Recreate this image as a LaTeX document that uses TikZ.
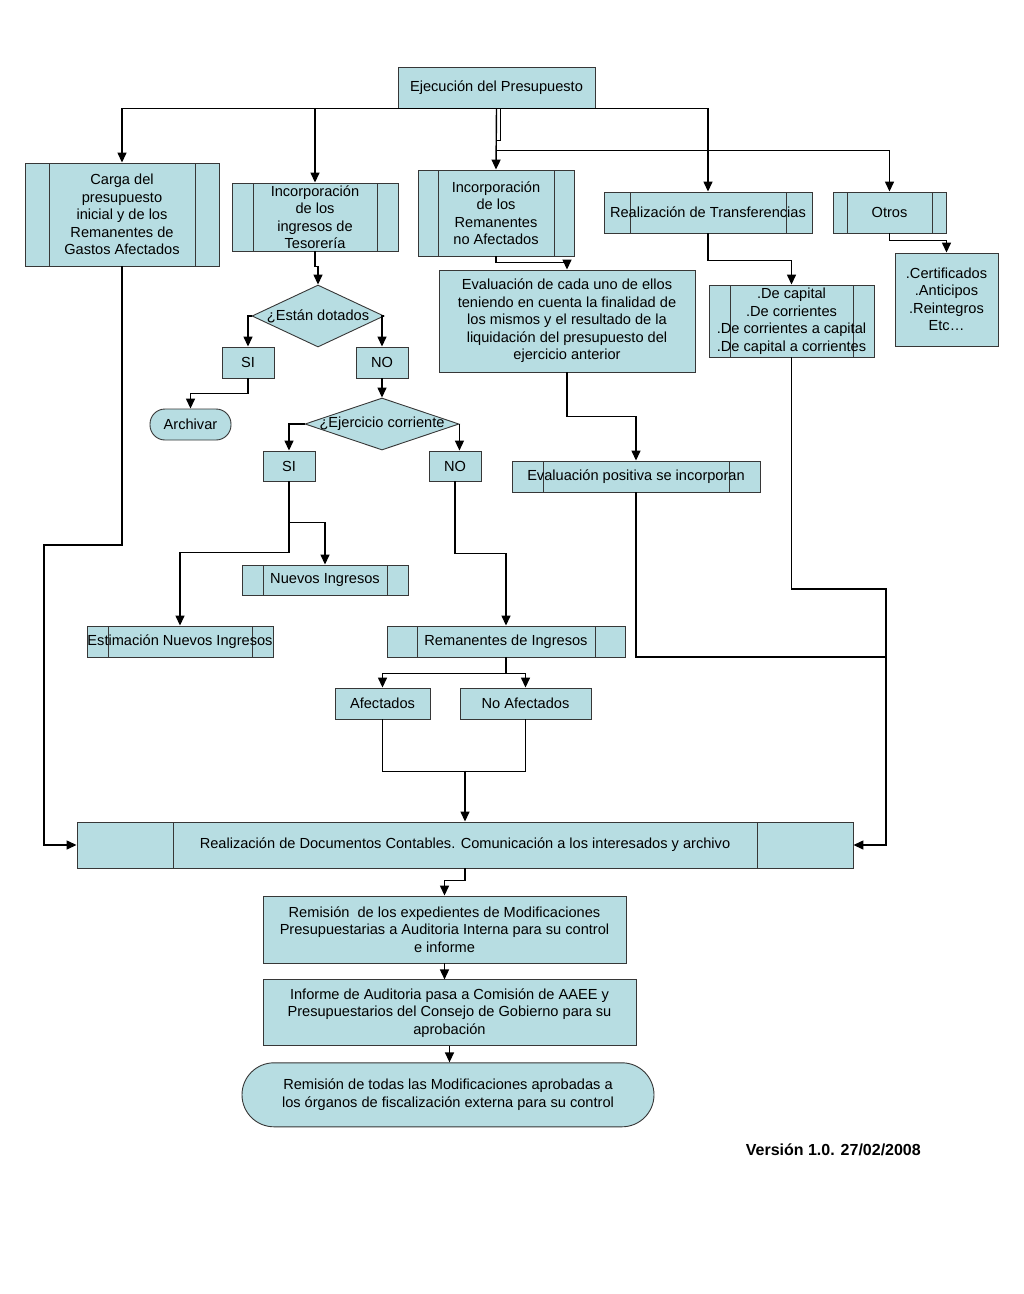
\documentclass[tikz,border=0pt]{standalone}
\usepackage{fontspec}
\setmainfont{Liberation Sans}
\usepackage{tikz}
\usetikzlibrary{positioning, shapes.geometric, arrows.meta}
\definecolor{boxfill}{RGB}{183,221,226}
\definecolor{boxline}{RGB}{55,55,55}

\begin{document}
\begin{tikzpicture}[x=1pt, y=-1pt,
    font=\fontsize{14.6}{17.5}\selectfont,
    every node/.style={inner sep=0pt, align=center},
    box/.style={rectangle, draw=boxline, fill=boxfill, line width=0.9pt},
    procbox/.style={box, path picture={
        \draw[boxline, line width=0.9pt] ([xshift=#1]path picture bounding box.north west) -- ([xshift=#1]path picture bounding box.south west);
        \draw[boxline, line width=0.9pt] ([xshift=-#1]path picture bounding box.north east) -- ([xshift=-#1]path picture bounding box.south east);}},
    dia/.style={diamond, draw=boxline, fill=boxfill, line width=0.9pt},
    arr/.style={-{Triangle[length=10pt, width=9pt]}, line width=1.4pt},
    ln/.style={line width=1.4pt}]

    \fill[white] (0,0) rectangle (1024,1294);
    \useasboundingbox (0,0) rectangle (1024,1294);

    \node[box, minimum width=197pt, minimum height=41pt] (ejec) at (496.5,87.5) {Ejecución del Presupuesto};

    \node[procbox=24pt, minimum width=194pt, minimum height=103pt] (carga) at (122,214.5) {Carga del\\presupuesto\\inicial y de los\\Remanentes de\\Gastos Afectados};
    \node[procbox=21pt, minimum width=166pt, minimum height=68pt] (teso) at (315,217) {Incorporación\\de los\\ingresos de\\Tesorería};
    \node[procbox=20pt, minimum width=156pt, minimum height=86pt] (reman) at (496,213) {Incorporación\\de los\\Remanentes\\no Afectados};
    \node[procbox=26pt, minimum width=208pt, minimum height=41pt] (transf) at (708,212.5) {Realización de Transferencias};
    \node[procbox=14pt, minimum width=113pt, minimum height=41pt] (otros) at (889.5,212.5) {Otros};

    \node[box, minimum width=103pt, minimum height=93pt] (certif) at (946.5,299.5) {.Certificados\\.Anticipos\\.Reintegros\\Etc…};
    \node[procbox=21pt, minimum width=165pt, minimum height=72pt] (decap) at (791.5,321) {.De capital\\.De corrientes\\.De corrientes a capital\\.De capital a corrientes};
    \node[box, minimum width=256pt, minimum height=102pt] (evalua) at (567,321) {Evaluación de cada uno de ellos\\teniendo en cuenta la finalidad de\\los mismos y el resultado de la\\liquidación del presupuesto del\\ejercicio anterior};
    \node[procbox=31pt, minimum width=248pt, minimum height=31pt] (evalpos) at (636,476.5) {Evaluación positiva se incorporan};

    \node[dia, minimum width=132pt, minimum height=62pt, label={center:¿Están dotados}] (dot) at (318,316) {};
    \node[box, minimum width=52pt, minimum height=31pt] (si1) at (248,362.5) {SI};
    \node[box, minimum width=52pt, minimum height=31pt] (no1) at (382,362.5) {NO};
    \node[box, rounded corners=15pt, minimum width=81pt, minimum height=31pt] (archivar) at (190.5,424.5) {Archivar};

    \node[dia, minimum width=154pt, minimum height=52pt, label={center:¿Ejercicio corriente}] (ejer) at (382,424) {};
    \node[box, minimum width=52pt, minimum height=30pt] (si2) at (289,466) {SI};
    \node[box, minimum width=52pt, minimum height=30pt] (no2) at (455,466) {NO};

    \node[procbox=21pt, minimum width=166pt, minimum height=30pt] (nuevos) at (325,580) {Nuevos Ingresos};
    \node[procbox=21pt, minimum width=186pt, minimum height=31pt] (estim) at (180,641.5) {Estimación Nuevos Ingresos};
    \node[procbox=30pt, minimum width=238pt, minimum height=31pt] (remingr) at (506,641.5) {Remanentes de Ingresos};
    \node[box, minimum width=95pt, minimum height=31pt] (afect) at (382.5,703.5) {Afectados};
    \node[box, minimum width=131pt, minimum height=31pt] (noafect) at (525.5,703.5) {No Afectados};

    \node[procbox=96pt, minimum width=776pt, minimum height=46pt] (docs) at (465,845) {Realización de Documentos Contables. Comunicación a los interesados y archivo};
    \node[box, minimum width=363pt, minimum height=67pt] (remis) at (444.5,929.5) {Remisión~ de los expedientes de Modificaciones\\Presupuestarias a Auditoria Interna para su control\\e informe};
    \node[box, minimum width=373pt, minimum height=66pt, below=16pt of remis, xshift=5pt] (informe) {Informe de Auditoria pasa a Comisión de AAEE y\\Presupuestarios del Consejo de Gobierno para su\\aprobación};
    \node[box, rounded corners=32pt, minimum width=412pt, minimum height=64pt, below=16pt of informe, xshift=-1.5pt] (final) {Remisión de todas las Modificaciones aprobadas a\\los órganos de fiscalización externa para su control};

    \node[anchor=east, font=\bfseries\fontsize{16}{19}\selectfont] (ver) at (921,1150) {Versión 1.0. 27/02/2008};

    \coordinate (c1) at (44,545);
    \coordinate (r1) at (886,589);
    \coordinate (r2) at (886,657);

    \draw[arr] (ejec.south) -| (carga.north);
    \draw[arr] (ejec.south) -| (teso.north);
    \draw[arr] (ejec.south) -| (transf.north);
    \draw[arr] (ejec.south) -- (reman.north);
    \draw[ln] ([xshift=4pt]ejec.south) |- ([yshift=-32pt]ejec.south);
    \draw[arr] ([yshift=-42pt]ejec.south) -| (otros.north);

    \draw[arr] (carga.south) |- (c1) |- (docs.west);

    \draw[arr] (teso.south) -- ++(0,15) -| (dot.north);
    \draw[arr] (dot.west) -| (si1.north);
    \draw[arr] (dot.east) -| (no1.north);
    \draw[arr] (si1.south) -- ++(0,15) -| (archivar.north);
    \draw[arr] (no1.south) -- (ejer.north);
    \draw[arr] (ejer.west) -| (si2.north);
    \draw[arr] (ejer.east) -- (ejer.east |- no2.north);
    \draw[arr] (si2.south) -- ++(0,41) -| (nuevos.north);
    \draw[arr] (si2.south) -- ++(0,71) -| (estim.north);
    \draw[arr] (no2.south) -- ++(0,72) -| (remingr.north);
    \draw[arr] (remingr.south) -- ++(0,16) -| (afect.north);
    \draw[arr] (remingr.south) -- ++(0,16) -| (noafect.north);
    \draw[ln] (afect.south) -- ++(0,52) -| (noafect.south);
    \draw[arr] ([yshift=51pt]docs.north) -- (docs.north);

    \draw[arr] (reman.south) -- ++(0,6) -| (evalua.north);
    \draw[arr] (evalua.south) -- ++(0,44) -| (evalpos.north);
    \draw[ln] (evalpos.south) |- (r2);
    \draw[arr] (transf.south) -- ++(0,27) -| (decap.north);
    \draw[arr] (decap.south) |- (r1) |- (docs.east);
    \draw[arr] (otros.south) -- ++(0,7) -| (certif.north);

    \draw[arr] (docs.south) -- ++(0,12) -| (remis.north);
    \draw[arr] (remis.south) -- (remis.south |- informe.north);
    \draw[arr] (informe.south) -- (informe.south |- final.north);
\end{tikzpicture}
\end{document}
